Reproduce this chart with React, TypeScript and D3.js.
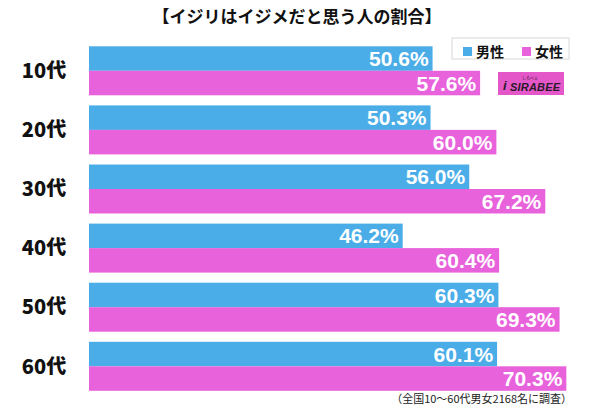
import React from "react";
import * as d3 from "d3";

const categories = ["10代", "20代", "30代", "40代", "50代", "60代"];
const male = [50.6, 50.3, 56.0, 46.2, 60.3, 60.1];
const female = [57.6, 60.0, 67.2, 60.4, 69.3, 70.3];
const seriesNames = ["男性", "女性"];
const title = "【イジリはイジメだと思う人の割合】";
const footnote = "（全国10〜60代男女2168名に調査）";

const BLUE = "#4AADE8";
const PINK = "#E862DB";

export default function App() {
  const W = 600, H = 415;
  const x = d3.scaleLinear().domain([0, 100]).range([89, 89 + 679]);
  const y = d3.scaleBand().domain(categories).range([46.3, 390.8]).paddingInner(0.171).paddingOuter(0);
  const sub = d3.scaleBand().domain(seriesNames).range([0, y.bandwidth()]);
  const font = "'Liberation Sans', Arial, sans-serif";
  const jp = "'Noto Sans CJK JP', sans-serif";
  return (
    <svg width={W} height={H} style={{ position: "absolute", left: 0, top: 0, background: "#fff" }}>
      <text x={297} y={23} textAnchor="middle" fontFamily={jp} fontWeight={700} fontSize={17} fill="#111">{title}</text>
      {categories.map((c, i) => {
        const y0 = y(c)!;
        return (
          <g key={c}>
            <text x={44} y={y0 + y.bandwidth() / 2} dy="0.36em" textAnchor="middle" fontFamily={jp} fontWeight={900} fontSize={20} fill="#111">{c}</text>
            {[male[i], female[i]].map((v, j) => (
              <g key={j}>
                <rect x={x(0)} y={y0 + sub(seriesNames[j])!} width={x(v) - x(0)} height={sub.bandwidth()} fill={j === 0 ? BLUE : PINK} />
                <text x={x(v) - 4} y={y0 + sub(seriesNames[j])! + sub.bandwidth() / 2} dy="0.36em" textAnchor="end" fontFamily={font} fontWeight={700} fontSize={21} fill="#fff">{v.toFixed(1)}%</text>
              </g>
            ))}
          </g>
        );
      })}
      <rect x={452} y={38} width={117} height={21} fill="#fff" stroke="#d8d8d8" strokeWidth={1} />
      <rect x={463} y={47} width={9} height={9} fill={BLUE} />
      <text x={476} y={52} dy="0.36em" fontFamily={jp} fontWeight={700} fontSize={14} fill="#111">{seriesNames[0]}</text>
      <rect x={522} y={47} width={9} height={9} fill={PINK} />
      <text x={535} y={52} dy="0.36em" fontFamily={jp} fontWeight={700} fontSize={14} fill="#111">{seriesNames[1]}</text>
      <rect x={498} y={72} width={66} height={23} fill="#E457C8" />
      <text x={503} y={90} fontFamily={font} fontWeight={700} fontSize={13} fontStyle="italic" fill="#2a1a2a">i</text>
      <text x={510} y={91} fontFamily={font} fontWeight={700} fontSize={11} fontStyle="italic" fill="#2a1a2a" textLength={50}>SIRABEE</text>
      <text x={522} y={80} fontFamily={jp} fontSize={4} fill="#2a1a2a">しらべぇ</text>
      <text x={572} y={403} textAnchor="end" fontFamily={jp} fontSize={11} fill="#222">{footnote}</text>
    </svg>
  );
}
